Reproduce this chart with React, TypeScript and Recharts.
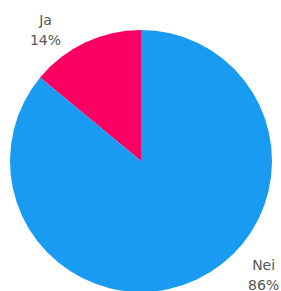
import React from "react";
import { PieChart, Pie, Cell } from "recharts";

const categories = ["Ja", "Nei"];
const values = [14, 86];
const colors = ["#FA0062", "#1A9BF2"];

const data = categories.map((name, i) => ({ name, value: values[i] }));

const RAD = Math.PI / 180;
const LABEL_SHIFT = [10.8, 21.8];
const LABEL_DIST = [1.24, 1.28];

const renderLabel = (props: any) => {
  const { cx, cy, midAngle, outerRadius, percent, name, index } = props;
  const ang = midAngle + LABEL_SHIFT[index];
  const r = outerRadius * LABEL_DIST[index];
  const x = cx + r * Math.cos(-ang * RAD);
  const y = cy + r * Math.sin(-ang * RAD);
  return (
    <text
      x={x}
      y={y}
      textAnchor="middle"
      fill="#555"
      fontSize={14}
      fontFamily="DejaVu Sans, sans-serif"
    >
      <tspan x={x} dy={-5}>{name}</tspan>
      <tspan x={x} dy={20}>{`${Math.round(percent * 100)}%`}</tspan>
    </text>
  );
};

export default function App() {
  return (
    <div style={{ position: "absolute", left: 0, top: 0 }}>
      <PieChart width={281} height={291} margin={{ top: 0, right: 0, bottom: 0, left: 0 }}>
        <Pie
          data={data}
          dataKey="value"
          nameKey="name"
          cx={141}
          cy={161}
          outerRadius={131}
          startAngle={90}
          endAngle={450}
          stroke="none"
          label={renderLabel}
          labelLine={false}
          isAnimationActive={false}
        >
          {data.map((d, i) => (
            <Cell key={d.name} fill={colors[i]} />
          ))}
        </Pie>
      </PieChart>
    </div>
  );
}
